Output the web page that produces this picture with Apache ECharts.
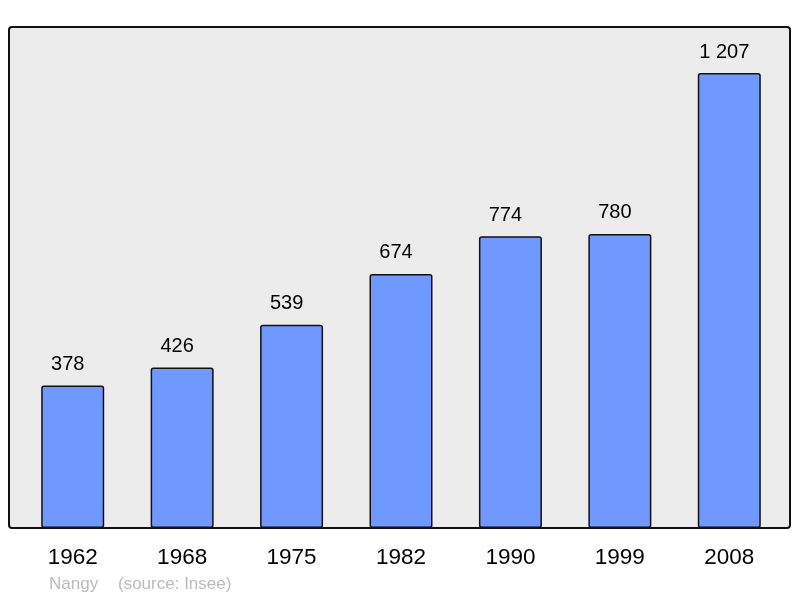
<!DOCTYPE html>
<html>
<head>
<meta charset="utf-8">
<script src="https://cdn.jsdelivr.net/npm/echarts@6/dist/echarts.min.js"></script>
<style>
html, body { margin: 0; padding: 0; background: #fff; }
#main { width: 800px; height: 598px; }
</style>
</head>
<body>
<div id="main"></div>
<script>
// données
var annees = ['1962', '1968', '1975', '1982', '1990', '1999', '2008'];
var population = [378, 426, 539, 674, 774, 780, 1207];
var commune = 'Nangy';
var source = '(source: Insee)';

var myChart = echarts.init(document.getElementById('main'));

function sepMilliers(v) {
    return String(v).replace(/\B(?=(\d{3})+(?!\d))/g, ' ');
}

var option = {
    animation: false,
    textStyle: { fontFamily: 'Liberation Sans, Arial, sans-serif' },
    grid: { left: 18, top: 27, width: 766, height: 501 },
    graphic: [
        {
            type: 'rect',
            z: -10,
            shape: { x: 9, y: 27, width: 781, height: 501, r: 3 },
            style: { fill: '#ececec', stroke: '#111', lineWidth: 2 }
        },
        {
            type: 'text',
            left: 49, top: 576,
            style: { text: commune, fill: '#bbbbbb', font: '17px Liberation Sans, Arial, sans-serif' }
        },
        {
            type: 'text',
            left: 118, top: 576,
            style: { text: source, fill: '#bbbbbb', font: '17px Liberation Sans, Arial, sans-serif' }
        }
    ],
    xAxis: {
        type: 'category',
        data: annees,
        axisLine: { show: false },
        axisTick: { show: false },
        axisLabel: { color: '#000', fontSize: 22.5, margin: 18 }
    },
    yAxis: {
        type: 'value',
        min: 0,
        max: 1329,
        show: false,
        splitLine: { show: false }
    },
    series: [
        {
            type: 'bar',
            data: population,
            barWidth: 63,
            itemStyle: {
                color: '#7099ff',
                borderColor: '#111',
                borderWidth: 1.5,
                borderRadius: 2
            },
            label: {
                show: true,
                position: 'top',
                distance: 11,
                offset: [-5, 0],
                color: '#000',
                fontSize: 20,
                formatter: function (p) { return sepMilliers(p.value); }
            }
        }
    ]
};

myChart.setOption(option);
</script>
</body>
</html>
